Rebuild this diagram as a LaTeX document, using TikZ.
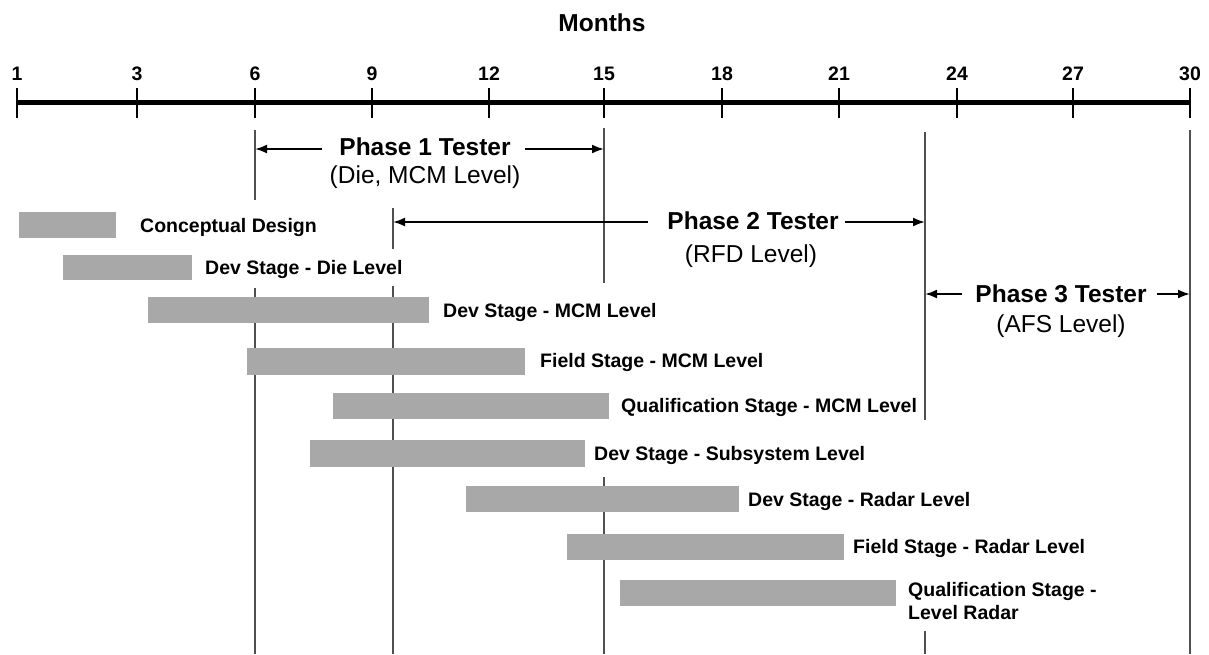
\documentclass[tikz,border=0pt]{standalone}
\usepackage{fontspec}
\setmainfont{Liberation Sans}
\usetikzlibrary{arrows.meta}
\definecolor{bargray}{RGB}{168,168,168}
\definecolor{vgray}{RGB}{80,80,80}
\begin{document}
\begin{tikzpicture}[x=1pt,y=-1pt,
  bar/.style={fill=bargray,draw=none,inner sep=0pt,outer sep=0pt,anchor=north west},
  lab/.style={font=\bfseries\fontsize{19.5}{23}\selectfont,inner sep=0pt,anchor=west,text height=14pt,text depth=0pt},
  ticklab/.style={font=\bfseries\fontsize{19.5}{22}\selectfont,inner sep=0pt,text height=14pt,text depth=0pt},
  phase/.style={font=\bfseries\fontsize{24.5}{28}\selectfont,inner sep=0pt,text height=17.5pt,text depth=0pt},
  sub/.style={font=\fontsize{24.5}{28}\selectfont,inner sep=0pt,text height=17.5pt,text depth=0pt},
  guide/.style={draw=vgray,line width=1.5pt},
  tickline/.style={draw=black,line width=1.5pt},
  arr/.style={draw=black,line width=2pt,-{Latex[length=12pt,width=9pt]}}]
\useasboundingbox (0,0) rectangle (1209,654);
\fill[white] (0,0) rectangle (1209,654);

% title
\node[phase] (months) at (602,23) {Months};

% axis
\coordinate (axL) at (17,102);
\coordinate (axR) at (1190,102);
\draw[line width=5pt] (axL) -- (axR);
\foreach \xx/\lab/\nm in {17/1/t1,137/3/t3,255/6/t6,372/9/t9,489/12/t12,604/15/t15,722/18/t18,839/21/t21,957/24/t24,1073/27/t27,1190/30/t30}{
  \coordinate (\nm a) at (\xx,88);
  \coordinate (\nm b) at (\xx,118);
  \draw[tickline] (\nm a) -- (\nm b);
  \node[ticklab] (\nm l) at (\xx,73) {\lab};
}

% guide lines
\coordinate (g6a) at (255,130); \coordinate (g6b) at (255,200);
\coordinate (g6c) at (255,288); \coordinate (g6d) at (255,654);
\coordinate (g9a) at (393,208); \coordinate (g9b) at (393,249);
\coordinate (g9c) at (393,286); \coordinate (g9d) at (393,654);
\coordinate (g15a) at (604,128); \coordinate (g15b) at (604,283);
\coordinate (g15c) at (604,477); \coordinate (g15d) at (604,654);
\coordinate (g23a) at (925,132); \coordinate (g23b) at (925,420);
\coordinate (g23c) at (925,631); \coordinate (g23d) at (925,654);
\coordinate (g30a) at (1190,130); \coordinate (g30b) at (1190,654);
\draw[guide] (g6a) -- (g6b) (g6c) -- (g6d);
\draw[guide] (g9a) -- (g9b) (g9c) -- (g9d);
\draw[guide] (g15a) -- (g15b) (g15c) -- (g15d);
\draw[guide] (g23a) -- (g23b) (g23c) -- (g23d);
\draw[guide] (g30a) -- (g30b);

% phases
\node[phase] (p1) at (425,147) {Phase 1 Tester};
\node[sub] (p1s) at (425,175) {(Die, MCM Level)};
\coordinate (p1L) at (322,149); \coordinate (p1Le) at (255,149);
\coordinate (p1R) at (525,149); \coordinate (p1Re) at (604,149);
\draw[arr] (p1L) -- (p1Le);
\draw[arr] (p1R) -- (p1Re);

\node[phase] (p2) at (753,221) {Phase 2 Tester};
\node[sub] (p2s) at (751,254) {(RFD Level)};
\coordinate (p2L) at (648,222); \coordinate (p2Le) at (393,222);
\coordinate (p2R) at (845,222); \coordinate (p2Re) at (925,222);
\draw[arr] (p2L) -- (p2Le);
\draw[arr] (p2R) -- (p2Re);

\node[phase] (p3) at (1061,294) {Phase 3 Tester};
\node[sub] (p3s) at (1061,324) {(AFS Level)};
\coordinate (p3L) at (962,294); \coordinate (p3Le) at (925,294);
\coordinate (p3R) at (1157,294); \coordinate (p3Re) at (1190,294);
\draw[arr] (p3L) -- (p3Le);
\draw[arr] (p3R) -- (p3Re);

% bars
\node[bar,minimum width=97pt,minimum height=26pt] (b1) at (19,212) {};
\node[bar,minimum width=129pt,minimum height=25pt] (b2) at (63,255) {};
\node[bar,minimum width=281pt,minimum height=26pt] (b3) at (148,297) {};
\node[bar,minimum width=278pt,minimum height=27pt] (b4) at (247,348) {};
\node[bar,minimum width=276pt,minimum height=26pt] (b5) at (333,393) {};
\node[bar,minimum width=275pt,minimum height=27pt] (b6) at (310,440) {};
\node[bar,minimum width=273pt,minimum height=26pt] (b7) at (466,486) {};
\node[bar,minimum width=277pt,minimum height=26pt] (b8) at (567,534) {};
\node[bar,minimum width=276pt,minimum height=26pt] (b9) at (620,580) {};

% labels
\node[lab] (l1) at (140,225) {Conceptual Design};
\node[lab] (l2) at (205,267) {Dev Stage - Die Level};
\node[lab] (l3) at (443,310) {Dev Stage - MCM Level};
\node[lab] (l4) at (540,360) {Field Stage - MCM Level};
\node[lab] (l5) at (621,405) {Qualification Stage - MCM Level};
\node[lab] (l6) at (594,453) {Dev Stage - Subsystem Level};
\node[lab] (l7) at (748,499) {Dev Stage - Radar Level};
\node[lab] (l8) at (853,546) {Field Stage - Radar Level};
\node[font=\bfseries\fontsize{19.5}{23}\selectfont,inner sep=0pt,anchor=north west,align=left] (l9) at (908,582) {Qualification Stage -\\Level Radar};
\end{tikzpicture}
\end{document}
